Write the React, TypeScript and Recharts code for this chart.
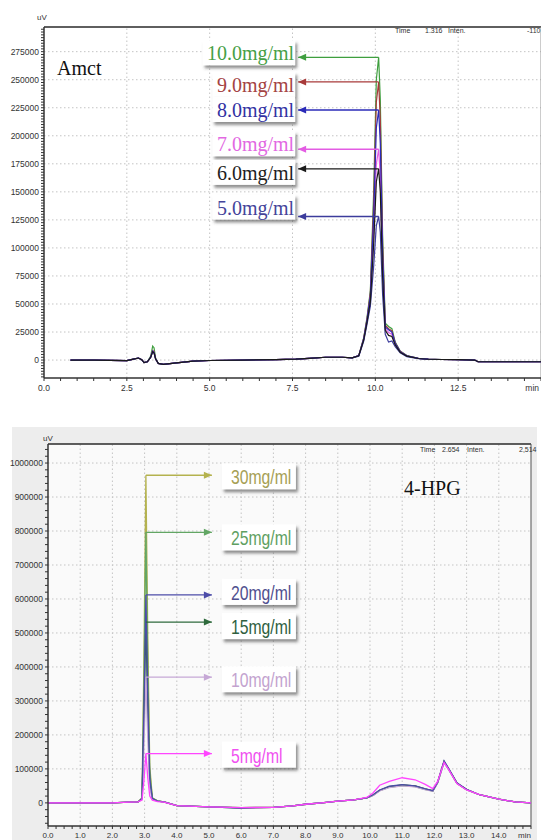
import React from 'react';
import { LineChart, Line, XAxis, YAxis, ReferenceLine, ReferenceDot } from 'recharts';

// ---- Amct chromatogram (top) ----
const amctTime = [
  0.8, 1.5, 2.0, 2.5, 2.7, 2.85, 2.95, 3.02, 3.12, 3.22, 3.28, 3.32, 3.37, 3.45, 3.6, 4.0, 4.5, 5.0, 6.0, 7.0,
  7.6, 8.0, 8.5, 9.0, 9.3, 9.5, 9.65, 9.75, 9.85, 9.95, 10.03, 10.1, 10.15, 10.22, 10.3, 10.4, 10.5, 10.6,
  10.75, 10.95, 11.3, 11.6, 12.0, 12.5, 13.0, 13.1, 14.0, 15.0,
];
const amct10 = [
  0, 0, -300, -500, 800, 1800, 300, -2200, -1500, 3500, 12500, 11000, 1500, -3000, -3800, -2500, -1000, -400, 0, 300,
  800, 1500, 2500, 2500, 2000, 4000, 20000, 38000, 62000, 150000, 250000, 270000, 232000, 110000, 33000, 30000, 28000, 16000,
  8000, 4000, 1500, 800, 500, 300, 0, -1500, -1500, -1500,
];
const amct9 = [
  0, 0, -300, -500, 800, 1800, 300, -2200, -1500, 2500, 8500, 7500, 1000, -3000, -3800, -2500, -1000, -400, 0, 300,
  800, 1500, 2500, 2500, 2000, 4000, 19500, 37000, 60000, 140000, 230000, 248000, 214000, 102000, 31000, 28000, 26000, 15500,
  7800, 3800, 1500, 800, 500, 300, 0, -1500, -1500, -1500,
];
const amct8 = [
  0, 0, -300, -500, 800, 1800, 300, -2200, -1500, 2500, 8000, 7000, 1000, -3000, -3800, -2500, -1000, -400, 0, 300,
  800, 1500, 2500, 2500, 2000, 4000, 19000, 36000, 57000, 128000, 207000, 223000, 193000, 93000, 29500, 27000, 25000, 15000,
  7500, 3800, 1500, 800, 500, 300, 0, -1500, -1500, -1500,
];
const amct7 = [
  0, 0, -300, -500, 800, 1800, 300, -2200, -1500, 2500, 8000, 7000, 1000, -3000, -3800, -2500, -1000, -400, 0, 300,
  800, 1500, 2500, 2500, 2000, 4000, 18500, 35000, 54000, 112000, 175000, 188000, 164000, 80000, 28000, 24500, 23000, 14000,
  7300, 3600, 1400, 700, 500, 300, 0, -1500, -1500, -1500,
];
const amct6 = [
  0, 0, -300, -500, 800, 1800, 300, -2200, -1500, 2500, 7500, 6500, 1000, -3000, -3800, -2500, -1000, -400, 0, 300,
  800, 1500, 2500, 2500, 2000, 3800, 18000, 34000, 52000, 104000, 159000, 170500, 150000, 74000, 26500, 22000, 21000, 13500,
  7000, 3500, 1400, 700, 500, 300, 0, -1500, -1500, -1500,
];
const amct5 = [
  0, 0, -300, -500, 800, 1800, 300, -2200, -1500, 2500, 7500, 6500, 1000, -3000, -3800, -2500, -1000, -400, 0, 300,
  800, 1500, 2500, 2500, 2000, 3500, 17000, 32000, 48000, 84000, 120000, 128000, 114000, 58000, 23000, 16000, 17000, 12000,
  6500, 3000, 1200, 600, 500, 300, 0, -1500, -1500, -1500,
];
const amctSeries = [amct10, amct9, amct8, amct7, amct6, amct5];
const amctLabels = ['10.0mg/ml', '9.0mg/ml', '8.0mg/ml', '7.0mg/ml', '6.0mg/ml', '5.0mg/ml'];
const amctYTicks = [0, 25000, 50000, 75000, 100000, 125000, 150000, 175000, 200000, 225000, 250000, 275000];
const amctXTicks = [0, 2.5, 5, 7.5, 10, 12.5];

// ---- 4-HPG chromatogram (bottom) ----
const hpgTime = [
  0, 1.0, 2.0, 2.5, 2.8, 2.92, 2.98, 3.04, 3.1, 3.16, 3.24, 3.4, 3.6, 4.0, 5.0, 6.0, 7.0, 7.6, 8.0, 8.5,
  9.0, 9.5, 9.9, 10.1, 10.3, 10.6, 11.0, 11.4, 11.7, 11.95, 12.1, 12.3, 12.45, 12.7, 13.0, 13.4, 14.0, 14.5, 15.0,
];
const hpg30 = [
  0, 0, 0, 2000, 3000, 15000, 430000, 964000, 480000, 110000, 15000, 6000, 3000, -8000, -12000, -14000, -13000, -9000, -4000, 0,
  5000, 9000, 15000, 24000, 37000, 47000, 52000, 49000, 41000, 36000, 60000, 121000, 98000, 58000, 39000, 24000, 11000, 3000, 0,
];
const hpg25 = [
  0, 0, 0, 2000, 3000, 14000, 355000, 796000, 395000, 92000, 14000, 6000, 3000, -8000, -12000, -14000, -13000, -9000, -4000, 0,
  5000, 9000, 15000, 23000, 36000, 46000, 51000, 48000, 40000, 35000, 59000, 120000, 97000, 58000, 39000, 24000, 11000, 3000, 0,
];
const hpg20 = [
  0, 0, 0, 2000, 3000, 13000, 272000, 612000, 305000, 72000, 13000, 5000, 3000, -8000, -12000, -15000, -13000, -9000, -4000, 0,
  5000, 9000, 15000, 24000, 38000, 49000, 54000, 50000, 42000, 36000, 61000, 124000, 100000, 59000, 40000, 24000, 11000, 3000, 0,
];
const hpg15 = [
  0, 0, 0, 2000, 3000, 12000, 238000, 532000, 265000, 63000, 12000, 5000, 3000, -8000, -12000, -15000, -13000, -9000, -4000, 0,
  5000, 9000, 15000, 23000, 37000, 48000, 53000, 50000, 41000, 35000, 60000, 122000, 99000, 58000, 39000, 24000, 11000, 3000, 0,
];
const hpg10 = [
  0, 0, 0, 2000, 3000, 10000, 166000, 370000, 185000, 45000, 10000, 5000, 3000, -8000, -12000, -14000, -13000, -9000, -4000, 0,
  5000, 9000, 15000, 22000, 35000, 45000, 50000, 47000, 39000, 34000, 58000, 118000, 96000, 57000, 38000, 24000, 11000, 3000, 0,
];
const hpg5 = [
  0, 0, 0, 2000, 3000, 8000, 66000, 145000, 73000, 20000, 8000, 4000, 2000, -8000, -12000, -14000, -13000, -9000, -4000, 0,
  5000, 9000, 16000, 30000, 52000, 63000, 74000, 68000, 55000, 42000, 63000, 119000, 97000, 57000, 38000, 24000, 11000, 3000, 0,
];
const hpgSeries = [hpg30, hpg25, hpg20, hpg15, hpg10, hpg5];
const hpgLabels = ['30mg/ml', '25mg/ml', '20mg/ml', '15mg/ml', '10mg/ml', '5mg/ml'];
const hpgYTicks = [0, 100000, 200000, 300000, 400000, 500000, 600000, 700000, 800000, 900000, 1000000];
const hpgXTicks = [0, 1, 2, 3, 4, 5, 6, 7, 8, 9, 10, 11, 12, 13, 14];

// styling
const amctColors = ['#3f9f3f', '#a83a3a', '#2b2bb8', '#e35ce3', '#1a1a1a', '#3c3c9c'];
const amctTextColors = ['#46a046', '#a44343', '#3232a2', '#e268e2', '#1e1e1e', '#44449a'];
const amctNudge = [-4, 3, 0, -5, 4, -9];
const amctOrder = [0, 1, 3, 2, 5, 4];
const hpgColors = ['#b4b24e', '#62a664', '#4c4ca8', '#2e6a3c', '#c6a8d6', '#ff45ff'];
const hpgTextColors = ['#a6a055', '#5f9f62', '#50508f', '#2f5f3f', '#c3a3cf', '#f050f0'];
const hpgNudge = [1, 5, -3, 4, 2, 1];
const hpgOrder = [0, 1, 3, 4, 2, 5];

const tickFont = 'Liberation Sans';
const AXIS = '#333';
const GRID = '#c4c4c4';

const rows = (time: number[], series: number[][]) =>
  time.map((t, i) => {
    const r: any = { t };
    series.forEach((s, k) => (r['s' + k] = s[i]));
    return r;
  });

const steps = (from: number, to: number, step: number) => {
  const out: number[] = [];
  for (let v = from; v <= to + 1e-9; v += step) out.push(Math.round(v * 1000) / 1000);
  return out;
};

const peakOf = (time: number[], s: number[]) => {
  const m = Math.max(...s);
  return { t: time[s.indexOf(m)], v: m };
};

const Shadow = () => (
  <svg width="0" height="0" style={{ position: 'absolute' }}>
    <defs>
      <filter id="lblShadow" x="-20%" y="-30%" width="150%" height="190%">
        <feDropShadow dx="2" dy="3" stdDeviation="1.6" floodColor="#444" floodOpacity="0.6" />
      </filter>
    </defs>
  </svg>
);

const text = (left: number, top: number, s: string, style: React.CSSProperties = {}) => (
  <div style={{ position: 'absolute', left, top, whiteSpace: 'nowrap', lineHeight: 1, ...style }}>{s}</div>
);

const AMCT_TIP = 7.67;

function AmctChart() {
  const data = rows(amctTime, amctSeries);
  const yMinor = steps(-15000, 295000, 2500);
  const xMinor = steps(0, 15, 0.5);
  const YTick = (p: any) => {
    const v = p.payload.value;
    if (!amctYTicks.includes(v)) return <g />;
    return (
      <text x={p.x} y={p.y + 3} textAnchor="end" fontSize={8.5} fontFamily={tickFont} fill="#333">
        {v}
      </text>
    );
  };
  const XTick = (p: any) => {
    const v = p.payload.value;
    if (v === 15)
      return (
        <text x={p.x - 2} y={p.y + 8} textAnchor="end" fontSize={8.5} fontFamily={tickFont} fill="#333">
          min
        </text>
      );
    if (!amctXTicks.includes(v)) return <g />;
    return (
      <text x={p.x} y={p.y + 8} textAnchor="middle" fontSize={8.5} fontFamily={tickFont} fill="#333">
        {v.toFixed(1)}
      </text>
    );
  };
  return (
    <LineChart width={541} height={395} data={data} margin={{ top: 27, right: 0, left: 0, bottom: 0 }}>
      <XAxis
        dataKey="t"
        type="number"
        domain={[0, 15]}
        ticks={xMinor}
        interval={0}
        tickSize={3}
        tick={XTick}
        height={17}
        axisLine={{ stroke: AXIS, strokeWidth: 1.5 }}
        tickLine={{ stroke: AXIS }}
        allowDataOverflow
      />
      <YAxis
        type="number"
        domain={[-16000, 297000]}
        ticks={yMinor}
        interval={0}
        tickSize={3}
        tick={YTick}
        width={44}
        axisLine={{ stroke: AXIS, strokeWidth: 1.5 }}
        tickLine={{ stroke: AXIS }}
        allowDataOverflow
      />
      {amctYTicks.map((v) => (
        <ReferenceLine key={'gy' + v} y={v} stroke={GRID} strokeDasharray="1.5 2.5" />
      ))}
      {amctXTicks.slice(1).map((v) => (
        <ReferenceLine key={'gx' + v} x={v} stroke={GRID} strokeDasharray="1.5 2.5" />
      ))}
      <ReferenceLine y={297000} stroke="#2a2a2a" strokeWidth={1.6} ifOverflow="visible" />
      <ReferenceLine x={15} stroke="#999" strokeWidth={1} ifOverflow="visible" />
      {amctOrder.map((k) => (
        <Line
          key={'l' + k}
          dataKey={'s' + k}
          type="linear"
          stroke={amctColors[k]}
          strokeWidth={1.2}
          dot={false}
          isAnimationActive={false}
        />
      ))}
      {amctSeries.map((s, k) => {
        const pk = peakOf(amctTime, s);
        return (
          <ReferenceLine
            key={'a' + k}
            segment={[
              { x: pk.t, y: pk.v },
              { x: AMCT_TIP, y: pk.v },
            ]}
            stroke={amctColors[k]}
            strokeWidth={1.3}
            ifOverflow="visible"
          />
        );
      })}
      {amctSeries.map((s, k) => {
        const pk = peakOf(amctTime, s);
        const label = amctLabels[k];
        const w = label.length * 9.6 + 6;
        return (
          <ReferenceDot
            key={'b' + k}
            x={AMCT_TIP}
            y={pk.v}
            r={0}
            ifOverflow="visible"
            shape={(p: any) => {
              const cx = p.cx;
              const cy = p.cy;
              const ty = cy + amctNudge[k];
              return (
                <g>
                  <polygon points={`${cx},${cy} ${cx + 8},${cy - 3.5} ${cx + 8},${cy + 3.5}`} fill={amctColors[k]} />
                  <rect x={cx - 3 - w} y={ty - 13} width={w} height={25} fill="#fff" filter="url(#lblShadow)" />
                  <text
                    x={cx - 4}
                    y={ty + 7}
                    textAnchor="end"
                    fontFamily="Liberation Serif"
                    fontSize={20}
                    fill={amctTextColors[k]}
                  >
                    {label}
                  </text>
                </g>
              );
            }}
          />
        );
      })}
    </LineChart>
  );
}

const HPG_TIP = 5.09;

function HpgChart() {
  const data = rows(hpgTime, hpgSeries);
  const yMinor = steps(-60000, 1040000, 20000);
  const xMinor = steps(0, 15, 0.25);
  const YTick = (p: any) => {
    const v = p.payload.value;
    if (!hpgYTicks.includes(v)) return <g />;
    return (
      <text x={p.x} y={p.y + 3} textAnchor="end" fontSize={8.5} fontFamily={tickFont} fill="#333">
        {v}
      </text>
    );
  };
  const XTick = (p: any) => {
    const v = p.payload.value;
    if (v === 15)
      return (
        <text x={p.x} y={p.y + 7} textAnchor="end" fontSize={8} fontFamily={tickFont} fill="#333">
          min
        </text>
      );
    if (!hpgXTicks.includes(v)) return <g />;
    return (
      <text x={p.x} y={p.y + 7} textAnchor="middle" fontSize={8} fontFamily={tickFont} fill="#333">
        {v.toFixed(1)}
      </text>
    );
  };
  return (
    <LineChart width={541} height={420} data={data} margin={{ top: 24, right: 10, left: 0, bottom: 0 }}>
      <XAxis
        dataKey="t"
        type="number"
        domain={[0, 15]}
        ticks={xMinor}
        interval={0}
        tickSize={3}
        tick={XTick}
        height={14}
        axisLine={{ stroke: AXIS, strokeWidth: 1.5 }}
        tickLine={{ stroke: AXIS }}
        allowDataOverflow
      />
      <YAxis
        type="number"
        domain={[-68000, 1056000]}
        ticks={yMinor}
        interval={0}
        tickSize={3}
        tick={YTick}
        width={48}
        axisLine={{ stroke: AXIS, strokeWidth: 1.5 }}
        tickLine={{ stroke: AXIS }}
        allowDataOverflow
      />
      {hpgYTicks.slice(1).map((v) => (
        <ReferenceLine key={'gy' + v} y={v} stroke={GRID} strokeDasharray="1.5 2.5" />
      ))}
      {hpgXTicks.slice(1).map((v) => (
        <ReferenceLine key={'gx' + v} x={v} stroke={GRID} strokeDasharray="1.5 2.5" />
      ))}
      <ReferenceLine y={1056000} stroke="#2a2a2a" strokeWidth={1.6} ifOverflow="visible" />
      <ReferenceLine x={15} stroke="#555" strokeWidth={1} ifOverflow="visible" />
      {hpgOrder.map((k) => (
        <Line
          key={'l' + k}
          dataKey={'s' + k}
          type="linear"
          stroke={hpgColors[k]}
          strokeWidth={1.3}
          dot={false}
          isAnimationActive={false}
        />
      ))}
      {hpgSeries.map((s, k) => {
        const pk = peakOf(hpgTime, s);
        return (
          <ReferenceLine
            key={'a' + k}
            segment={[
              { x: pk.t, y: pk.v },
              { x: HPG_TIP, y: pk.v },
            ]}
            stroke={hpgColors[k]}
            strokeWidth={1.4}
            ifOverflow="visible"
          />
        );
      })}
      {hpgSeries.map((s, k) => {
        const pk = peakOf(hpgTime, s);
        const label = hpgLabels[k];
        return (
          <ReferenceDot
            key={'b' + k}
            x={HPG_TIP}
            y={pk.v}
            r={0}
            ifOverflow="visible"
            shape={(p: any) => {
              const cx = p.cx;
              const cy = p.cy;
              const ty = cy + hpgNudge[k];
              return (
                <g>
                  <polygon points={`${cx},${cy} ${cx - 8},${cy - 3.5} ${cx - 8},${cy + 3.5}`} fill={hpgColors[k]} />
                  <rect x={cx + 10} y={ty - 13} width={74} height={26} fill="#fff" filter="url(#lblShadow)" />
                  <text
                    transform={`translate(${cx + 19},${ty + 8}) scale(0.75,1)`}
                    fontFamily="Liberation Sans"
                    fontSize={21}
                    fill={hpgTextColors[k]}
                  >
                    {label}
                  </text>
                </g>
              );
            }}
          />
        );
      })}
    </LineChart>
  );
}

export default function App() {
  const small: React.CSSProperties = { fontFamily: tickFont, fontSize: 7, color: '#333' };
  const title: React.CSSProperties = { fontFamily: 'Liberation Serif', fontSize: 20, color: '#111' };
  return (
    <div style={{ position: 'absolute', left: 0, top: 0, width: 541, height: 840, background: '#fff', overflow: 'hidden' }}>
      <Shadow />
      <div style={{ position: 'absolute', left: 0, top: 0 }}>
        <AmctChart />
      </div>
      {text(37, 14, 'uV', { ...small, fontSize: 8 })}
      {text(57, 58, 'Amct', title)}
      {text(395, 27, 'Time', small)}
      {text(425, 27, '1.316', small)}
      {text(448, 27, 'Inten.', small)}
      {text(527, 27, '-110', small)}

      <div style={{ position: 'absolute', left: 12, top: 427, width: 525, height: 413, background: '#ededed' }} />
      <div style={{ position: 'absolute', left: 48, top: 444, width: 483, height: 382, background: '#fafafa' }} />
      <div style={{ position: 'absolute', left: 0, top: 420 }}>
        <HpgChart />
      </div>
      {text(43, 435, 'uV', { ...small, fontSize: 8 })}
      {text(404, 478, '4-HPG', title)}
      {text(420, 446, 'Time', small)}
      {text(442, 446, '2.654', small)}
      {text(467, 446, 'Inten.', small)}
      {text(519, 446, '2,514', small)}
    </div>
  );
}
